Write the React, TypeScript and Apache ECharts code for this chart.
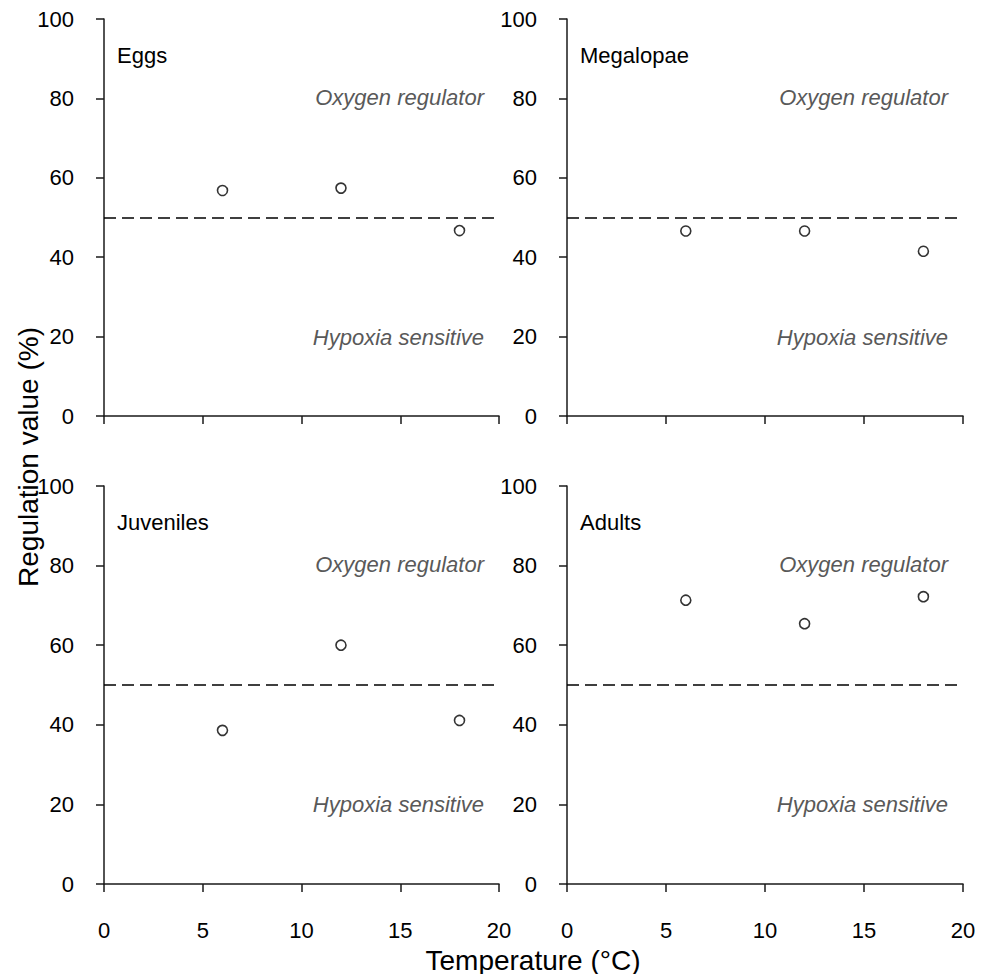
import React, { useEffect, useRef } from "react";
import * as echarts from "echarts";

const temperatures = [6, 12, 18];
const panelNames = ["Eggs", "Megalopae", "Juveniles", "Adults"];
const eggs = [56.8, 57.4, 46.7];
const megalopae = [46.6, 46.6, 41.5];
const juveniles = [38.6, 60.0, 41.1];
const adults = [71.3, 65.4, 72.2];
const panelValues = [eggs, megalopae, juveniles, adults];
const thresholdValue = 50;
const xTicks = { min: 0, max: 20, interval: 5 };
const yTicks = { min: 0, max: 100, interval: 20 };
const upperNote = "Oxygen regulator";
const lowerNote = "Hypoxia sensitive";
const xTitle = "Temperature (°C)";
const yTitle = "Regulation value (%)";

const FONT = "Arial, 'Liberation Sans', Helvetica, sans-serif";

const grids = [
  { left: 104, top: 19, width: 395, height: 397 },
  { left: 567, top: 19, width: 396, height: 397 },
  { left: 104, top: 486, width: 395, height: 398 },
  { left: 567, top: 486, width: 396, height: 398 },
];

export default function App() {
  const ref = useRef<HTMLDivElement>(null);
  useEffect(() => {
    if (!ref.current) return;
    const chart = echarts.init(ref.current, null, { renderer: "svg" });
    const axisLine = { show: true, lineStyle: { color: "#1a1a1a", width: 1.5 } };
    const axisTick = { show: true, length: 8, inside: false, lineStyle: { color: "#1a1a1a", width: 1.5 } };

    const xAxis = grids.map((_, i) => ({
      type: "value",
      gridIndex: i,
      min: xTicks.min,
      max: xTicks.max,
      interval: xTicks.interval,
      axisLine: { ...axisLine, onZero: false },
      axisTick,
      splitLine: { show: false },
      axisLabel: {
        show: i >= 2,
        fontSize: 22,
        color: "#000",
        fontFamily: FONT,
        margin: 35,
      },
    }));
    const yAxis = grids.map((_, i) => ({
      type: "value",
      gridIndex: i,
      min: yTicks.min,
      max: yTicks.max,
      interval: yTicks.interval,
      axisLine: { ...axisLine, onZero: false },
      axisTick,
      splitLine: { show: false },
      axisLabel: {
        fontSize: 22,
        color: "#000",
        fontFamily: FONT,
        margin: 30,
      },
    }));

    const series = panelValues.map((vals, i) => ({
      type: "scatter",
      xAxisIndex: i,
      yAxisIndex: i,
      data: temperatures.map((t, k) => [t, vals[k]]),
      symbol: "circle",
      symbolSize: 10,
      itemStyle: { color: "#fff", borderColor: "#000", borderWidth: 1.6 },
      markLine: {
        silent: true,
        symbol: "none",
        label: { show: false },
        lineStyle: { color: "#000", width: 1.5, type: [12, 6] },
        data: [{ yAxis: thresholdValue }],
      },
    }));

    const graphics: any[] = [];
    grids.forEach((g, i) => {
      graphics.push({
        type: "text",
        x: g.left + 13,
        y: g.top + 36,
        style: {
          text: panelNames[i],
          font: `22px ${FONT}`,
          fill: "#000",
          textAlign: "left",
          textVerticalAlign: "middle",
        },
      });
      const right = g.left + g.width - 15;
      graphics.push({
        type: "text",
        x: right,
        y: g.top + 78,
        style: {
          text: upperNote,
          font: `italic 22px ${FONT}`,
          fill: "#595959",
          textAlign: "right",
          textVerticalAlign: "middle",
        },
      });
      graphics.push({
        type: "text",
        x: right,
        y: g.top + 318,
        style: {
          text: lowerNote,
          font: `italic 22px ${FONT}`,
          fill: "#595959",
          textAlign: "right",
          textVerticalAlign: "middle",
        },
      });
    });
    graphics.push({
      type: "text",
      x: 533,
      y: 960,
      style: {
        text: xTitle,
        font: `28px ${FONT}`,
        fill: "#000",
        textAlign: "center",
        textVerticalAlign: "middle",
      },
    });
    graphics.push({
      type: "text",
      x: 28,
      y: 457,
      rotation: Math.PI / 2,
      style: {
        text: yTitle,
        font: `28px ${FONT}`,
        fill: "#000",
        textAlign: "center",
        textVerticalAlign: "middle",
      },
    });

    chart.setOption({
      animation: false,
      backgroundColor: "#fff",
      grid: grids.map((g) => ({ ...g, containLabel: false })),
      xAxis,
      yAxis,
      series,
      graphic: graphics,
    });
    return () => chart.dispose();
  }, []);
  return (
    <div
      ref={ref}
      style={{ position: "fixed", left: 0, top: 0, width: 987, height: 974, background: "#fff" }}
    />
  );
}
